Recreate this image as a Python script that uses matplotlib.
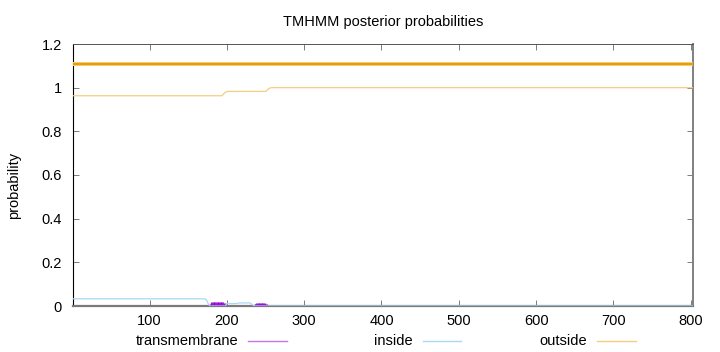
import numpy as np
import matplotlib
matplotlib.use("Agg")
import matplotlib.pyplot as plt
from matplotlib.lines import Line2D

plt.rcParams["font.family"] = ["Liberation Sans", "DejaVu Sans"]

# --- data (TMHMM posterior probabilities) ---
seq_len = 803
topology_y = 1.11  # predicted topology bar (all outside)

outside_pos = [1, 194, 196, 198, 201, 250, 252, 254, 257, 803]
outside_val = [0.963, 0.963, 0.972, 0.979, 0.983, 0.983, 0.988, 0.995, 1.0, 1.0]

inside_pos = [1, 172, 174, 176, 178, 198, 200, 212, 216, 230, 233, 236, 803]
inside_val = [0.033, 0.033, 0.025, 0.010, 0.0, 0.0, 0.011, 0.011, 0.014, 0.014, 0.006, 0.0, 0.0]

tm1_start = 177
tm1_val = [0.004, 0.010, 0.016, 0.019, 0.020, 0.020, 0.020, 0.020, 0.020, 0.020, 0.020, 0.020,
           0.020, 0.020, 0.020, 0.020, 0.020, 0.019, 0.018, 0.016, 0.012, 0.007, 0.003]
tm2_start = 235
tm2_val = [0.003, 0.007, 0.010, 0.012, 0.012, 0.012, 0.012, 0.012, 0.012, 0.012, 0.012, 0.012,
           0.012, 0.012, 0.012, 0.011, 0.010, 0.008, 0.005, 0.002]

xticks = [100, 200, 300, 400, 500, 600, 700, 800]
yticks = [0, 0.2, 0.4, 0.6, 0.8, 1.0, 1.2]
ytick_labels = ["0", "0.2", "0.4", "0.6", "0.8", "1", "1.2"]

TM_COLOR = "#9400D3"
IN_COLOR = "#a8d8f2"
OUT_COLOR = "#f3cd82"
TOPO_COLOR = "#E69F00"

fig = plt.figure(figsize=(7.2, 3.52), dpi=100)
ax = fig.add_axes([73 / 720, 46 / 352, 620 / 720, 262 / 352])

# transmembrane as impulses
for start, vals in [(tm1_start, tm1_val), (tm2_start, tm2_val)]:
    xs = start + np.arange(len(vals))
    ax.vlines(xs, 0, vals, color=TM_COLOR, lw=0.9, alpha=0.85, zorder=3)

ax.plot(inside_pos, inside_val, color=IN_COLOR, lw=0.9, zorder=3)
ax.plot(outside_pos, outside_val, color=OUT_COLOR, lw=0.9, zorder=3)
ax.plot([1, seq_len], [topology_y, topology_y], color="#f6d58e", lw=2.8, zorder=3,
        solid_capstyle="butt")
ax.plot([1, seq_len], [topology_y, topology_y], color=TOPO_COLOR, lw=1.7, zorder=3,
        solid_capstyle="butt")

ax.set_xlim(1, seq_len)
ax.set_ylim(0, 1.2)
ax.set_xticks(xticks)
ax.set_xticklabels([str(t) for t in xticks])
ax.set_yticks(yticks)
ax.set_yticklabels(ytick_labels)
ax.tick_params(direction="in", length=4, width=0.6, color="#666666",
               top=True, right=True, labelsize=10.5)
ax.tick_params(axis="y", pad=8)
ax.tick_params(axis="x", pad=6)

ax.spines["left"].set_color("black")
ax.spines["left"].set_linewidth(0.8)
ax.spines["top"].set_color("#555555")
ax.spines["top"].set_linewidth(0.7)
ax.spines["right"].set_color("#808080")
ax.spines["right"].set_linewidth(1.4)
ax.spines["bottom"].set_color("#7a7a7a")
ax.spines["bottom"].set_linewidth(1.6)

fig.text(383 / 720, 1 - 22 / 352, "TMHMM posterior probabilities",
         ha="center", va="center", fontsize=10.5)
fig.text(14 / 720, 1 - 185 / 352, "probability", rotation=90,
         ha="center", va="center", fontsize=10.5)

# legend row along the bottom (gnuplot style: text then sample)
legend_y = 1 - 341 / 352
legend = [("transmembrane", 238, 248, 287, "#c27ae8"),
          ("inside", 413, 423, 461, IN_COLOR),
          ("outside", 587, 597, 636, OUT_COLOR)]
for label, text_right, x0, x1, color in legend:
    fig.text(text_right / 720, legend_y, label, ha="right", va="center", fontsize=10.5)
    fig.add_artist(Line2D([x0 / 720, x1 / 720], [legend_y, legend_y],
                          transform=fig.transFigure, color=color, lw=1.0))

fig.savefig("out.png", dpi=100)
